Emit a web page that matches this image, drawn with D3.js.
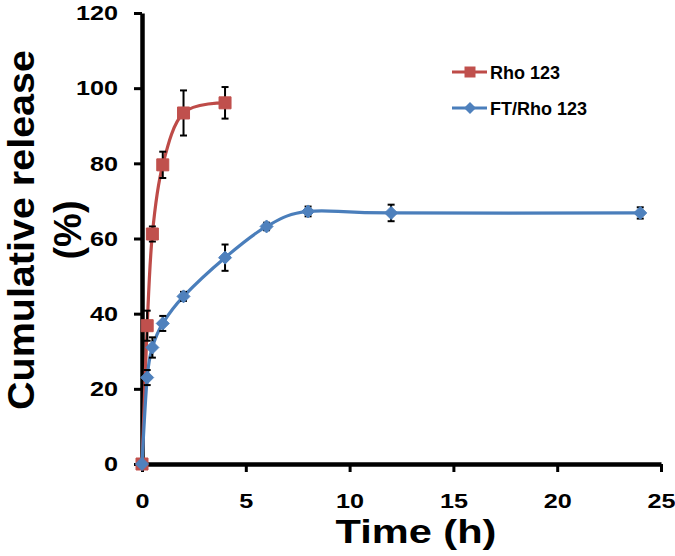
<!DOCTYPE html>
<html>
<head>
<meta charset="utf-8">
<script src="https://cdn.jsdelivr.net/npm/d3@7"></script>
<style>
  html, body { margin: 0; padding: 0; background: #fff; }
  svg { display: block; }
  text { font-family: "Liberation Sans", Arial, Helvetica, sans-serif; font-weight: bold; fill: #000; }
</style>
</head>
<body>
<svg id="chart" width="675" height="556"></svg>
<script>
// ---- data ----
const rhoTime    = [0, 0.25, 0.5, 1, 2, 4];
const rhoRelease = [0, 36.8, 61.2, 79.6, 93.4, 96.1];
const rhoError   = [0, 4, 2, 3.5, 6, 4.2];

const ftTime     = [0, 0.25, 0.5, 1, 2, 4, 6, 8, 12, 24];
const ftRelease  = [0, 23, 31, 37.4, 44.6, 54.9, 63.2, 67.2, 66.8, 66.8];
const ftError    = [0, 2, 2.7, 2, 1.2, 3.5, 1, 1.3, 2.2, 1.5];

const seriesNames = ["Rho 123", "FT/Rho 123"];
const xTicks = [0, 5, 10, 15, 20, 25];
const yTicks = [0, 20, 40, 60, 80, 100, 120];
const xTitle = "Time (h)";
const yTitleLines = ["Cumulative release", "(%)"];

// ---- layout ----
const svg = d3.select("#chart");
const x = d3.scaleLinear().domain([0, 25]).range([142, 661]);
const y = d3.scaleLinear().domain([0, 120]).range([464, 13]);

const colors = { rho: "#C0504D", ft: "#4F81BD" };
const lineColors = { rho: "#BE4B48", ft: "#4A7EBB" };

function stretchText(sel, factor) {
  sel.each(function () {
    const len = this.getComputedTextLength();
    d3.select(this).attr("textLength", len * factor).attr("lengthAdjust", "spacingAndGlyphs");
  });
}

// axes
const yAxis = svg.append("g")
  .attr("transform", `translate(${x(0)},0)`)
  .call(d3.axisLeft(y).tickValues(yTicks).tickSize(8).tickSizeOuter(0).tickPadding(16));
const xAxis = svg.append("g")
  .attr("transform", `translate(0,${y(0)})`)
  .call(d3.axisBottom(x).tickValues(xTicks).tickSize(8).tickSizeOuter(0).tickPadding(21));

[yAxis, xAxis].forEach(a => {
  a.attr("font-family", null).attr("font-size", null);
  a.select(".domain").attr("stroke", "#000").attr("stroke-width", 4.5);
  a.selectAll(".tick line").attr("stroke", "#000").attr("stroke-width", 3);
  a.selectAll(".tick text").style("font-size", "21px");
});
stretchText(yAxis.selectAll(".tick text"), 1.2);
stretchText(xAxis.selectAll(".tick text"), 1.2);

// titles
const xt = svg.append("text")
  .attr("x", 416).attr("y", 543)
  .attr("text-anchor", "middle")
  .style("font-size", "33px")
  .text(xTitle);
stretchText(xt, 1.26);

const yt1 = svg.append("text")
  .attr("transform", "translate(34,230) rotate(-90)")
  .attr("text-anchor", "middle")
  .style("font-size", "36px")
  .text(yTitleLines[0]);
yt1.attr("textLength", 360).attr("lengthAdjust", "spacingAndGlyphs");
svg.append("text")
  .attr("transform", "translate(81,230) rotate(-90)")
  .attr("text-anchor", "middle")
  .style("font-size", "38px")
  .text(yTitleLines[1]);

// series
const line = d3.line().x(d => x(d.t)).y(d => y(d.v)).curve(d3.curveCardinal.tension(0));

function makeSeries(times, vals, errs) {
  return times.map((t, i) => ({ t, v: vals[i], e: errs[i] }));
}
const rho = makeSeries(rhoTime, rhoRelease, rhoError);
const ft = makeSeries(ftTime, ftRelease, ftError);

const squarePath = s => `M${-s},${-s}H${s}V${s}H${-s}Z`;
const diamondPath = s => `M0,${-s}L${s},0L0,${s}L${-s},0Z`;

function drawSeries(data, key, shapePath) {
  svg.append("path")
    .datum(data)
    .attr("d", line)
    .attr("fill", "none")
    .attr("stroke", lineColors[key])
    .attr("stroke-width", 3.2);

  const eb = svg.append("g").attr("stroke", "#000").attr("stroke-width", 2);
  data.filter(d => d.e > 0).forEach(d => {
    const cx = x(d.t), y1 = y(d.v + d.e), y2 = y(d.v - d.e);
    eb.append("line").attr("x1", cx).attr("x2", cx).attr("y1", y1).attr("y2", y2);
    eb.append("line").attr("x1", cx - 3.5).attr("x2", cx + 3.5).attr("y1", y1).attr("y2", y1);
    eb.append("line").attr("x1", cx - 3.5).attr("x2", cx + 3.5).attr("y1", y2).attr("y2", y2);
  });

  svg.append("g").selectAll("path")
    .data(data)
    .join("path")
    .attr("transform", d => `translate(${x(d.t)},${y(d.v)})`)
    .attr("d", shapePath)
    .attr("fill", colors[key])
    .attr("stroke", colors[key])
    .attr("stroke-width", 1);
}

drawSeries(rho, "rho", squarePath(6));
drawSeries(ft, "ft", diamondPath(6.5));

// legend
const legend = svg.append("g");
const legendItems = [
  { name: seriesNames[0], key: "rho", shape: squarePath(5.5), y: 72 },
  { name: seriesNames[1], key: "ft", shape: diamondPath(6), y: 108 }
];
legendItems.forEach(it => {
  legend.append("line")
    .attr("x1", 452).attr("x2", 487).attr("y1", it.y).attr("y2", it.y)
    .attr("stroke", lineColors[it.key]).attr("stroke-width", 3.2);
  legend.append("path")
    .attr("transform", `translate(470,${it.y})`)
    .attr("d", it.shape)
    .attr("fill", colors[it.key]);
  legend.append("text")
    .attr("x", 490).attr("y", it.y + 6.5)
    .style("font-size", "18px")
    .text(it.name);
});
</script>
</body>
</html>
